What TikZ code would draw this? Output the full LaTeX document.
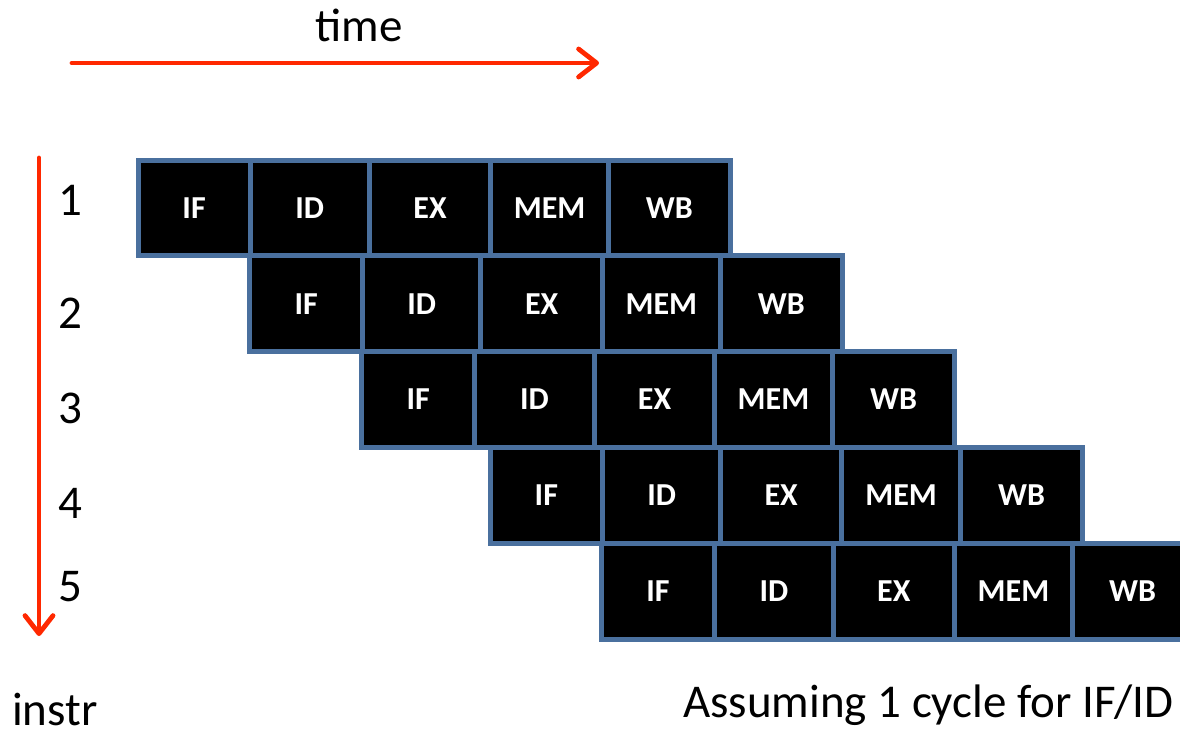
\documentclass[tikz,border=0pt]{standalone}
\usepackage{fontspec}
\setmainfont{Carlito}
\usetikzlibrary{arrows.meta}
\definecolor{stageedge}{RGB}{74,112,158}
\definecolor{axisred}{RGB}{255,40,0}

\begin{document}
\begin{tikzpicture}[x=1pt,y=-1pt,
  stagebox/.style={draw=stageedge, fill=black, line width=5pt, text=white,
    font=\bfseries\fontsize{32}{38}\selectfont, anchor=north west,
    inner sep=0pt, minimum height=95.8pt},
  axis/.style={draw=axisred, line width=4.8pt, line cap=round,
    -{Straight Barb[length=18pt,width=28pt,line cap=round,line join=round]}},
  lbl/.style={font=\fontsize{47}{56}\selectfont, inner sep=0pt}]

\useasboundingbox (0,0) rectangle (1180,734);
\clip (0,0) rectangle (1180,734);

% pipeline stages, one row per instruction: row / top / stage borders
\foreach \r/\yt/\xa/\xb/\xc/\xd/\xe/\xf in {
    1/157.5/135.5/247.7/366.7/488.3/606/727.7,
    2/253.3/247.3/360.3/478.3/600/717.7/840,
    3/349.1/359.3/472/592/712/830/952.3,
    4/444.9/487.7/600/718.3/839/958.3/1080,
    5/540.7/599/712/830.7/952/1070/1190} {
  \node[stagebox, minimum width={\xb pt-\xa pt}] (r\r-if)  at (\xa,\yt) {IF};
  \node[stagebox, minimum width={\xc pt-\xb pt}] (r\r-id)  at (\xb,\yt) {ID};
  \node[stagebox, minimum width={\xd pt-\xc pt}] (r\r-ex)  at (\xc,\yt) {EX};
  \node[stagebox, minimum width={\xe pt-\xd pt}] (r\r-mem) at (\xd,\yt) {MEM};
  \node[stagebox, minimum width={\xf pt-\xe pt}] (r\r-wb)  at (\xe,\yt) {WB};
}

% time axis
\coordinate (t0) at (72,63);
\coordinate (t1) at (599,63);
\draw[axis] (t0) -- (t1);
\node[lbl, anchor=base] (timelbl) at (359,41) {time};

% instruction axis
\coordinate (i0) at (39,158);
\coordinate (i1) at (39,636);
\draw[axis] (i0) -- (i1);
\node[lbl] (n1) at (70,200) {1};
\node[lbl] (n2) at (70,313) {2};
\node[lbl] (n3) at (70,408) {3};
\node[lbl] (n4) at (70,503) {4};
\node[lbl] (n5) at (70,587) {5};
\node[lbl, anchor=base west] (instrlbl) at (12,725) {instr};

\node[lbl, anchor=base west] (note) at (683,717) {Assuming 1 cycle for IF/ID};
\end{tikzpicture}
\end{document}
